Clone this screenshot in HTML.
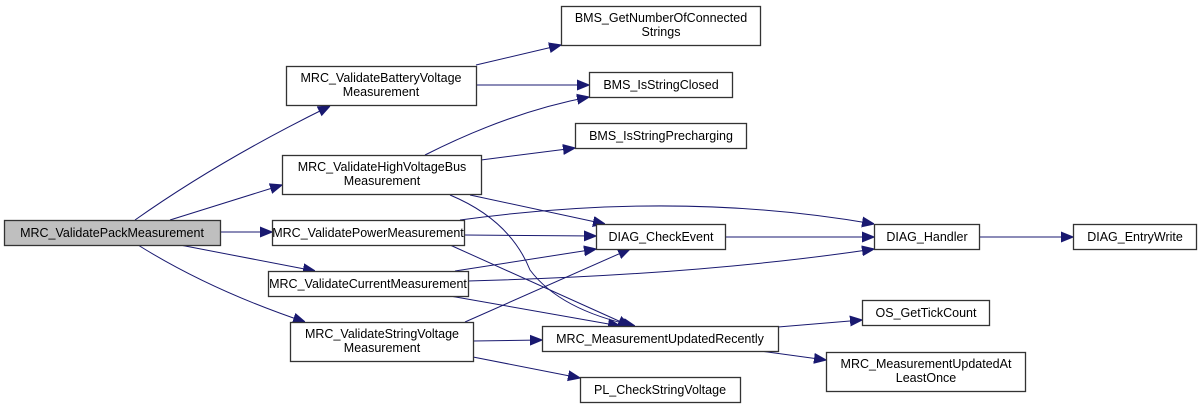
<!DOCTYPE html>
<html><head><meta charset="utf-8"><style>
html,body{margin:0;padding:0;background:#fff;}
svg{display:block;}
text{font-family:"Liberation Sans",Arial,sans-serif;font-size:12.5px;fill:#000;text-anchor:middle;}
rect{fill:#fff;stroke:#333;stroke-width:1.3;}
path{fill:none;stroke:#191970;stroke-width:1;}
</style></head><body>
<svg width="1201" height="407" viewBox="0 0 1201 407" xmlns="http://www.w3.org/2000/svg">
<defs>
<marker id="a" viewBox="0 0 10 10" refX="10" refY="5" markerWidth="12" markerHeight="12" markerUnits="userSpaceOnUse" orient="auto">
<path d="M0,1 L10,5 L0,9 Z" style="fill:#191970;stroke:#191970"/>
</marker>
</defs>
<g marker-end="url(#a)">
<path d="M135,220 Q220,160 330,106"/>
<path d="M170,220 L282,185"/>
<path d="M220,232 L272,232"/>
<path d="M180,245 L315,271"/>
<path d="M138,245 Q210,290 305,322"/>
<path d="M476,65 L561,45"/>
<path d="M476,85 L589,85"/>
<path d="M425,155 Q510,112 589,97"/>
<path d="M481,160 L575,148"/>
<path d="M470,195 L605,224"/>
<path d="M450,195 Q510,220 530,270 Q560,310 635,326"/>
<path d="M460,220 Q680,190 874,224"/>
<path d="M464,235 L596,236"/>
<path d="M450,245 L630,326"/>
<path d="M455,271 L596,249"/>
<path d="M468,281 Q700,275 874,249"/>
<path d="M450,296 L620,326"/>
<path d="M465,322 L630,249"/>
<path d="M473,341 L542,340"/>
<path d="M473,357 L580,378"/>
<path d="M725,237 L874,237"/>
<path d="M979,237 L1073,237"/>
<path d="M778,327 L862,320"/>
<path d="M760,351 L826,360"/>
</g>
<rect x="4.5" y="220.5" width="216" height="25" style="fill:#bfbfbf"/>
<text x="112" y="237">MRC_ValidatePackMeasurement</text>
<rect x="286.5" y="66.5" width="190" height="39"/>
<text x="381" y="82">MRC_ValidateBatteryVoltage</text><text x="381" y="96">Measurement</text>
<rect x="282.5" y="155.5" width="199" height="39"/>
<text x="382" y="171">MRC_ValidateHighVoltageBus</text><text x="382" y="185">Measurement</text>
<rect x="272.5" y="220.5" width="192" height="25"/>
<text x="368" y="237">MRC_ValidatePowerMeasurement</text>
<rect x="268.5" y="271.5" width="200" height="25"/>
<text x="368" y="288">MRC_ValidateCurrentMeasurement</text>
<rect x="290.5" y="322.5" width="183" height="39"/>
<text x="382" y="338">MRC_ValidateStringVoltage</text><text x="382" y="352">Measurement</text>
<rect x="561.5" y="6.5" width="199" height="39"/>
<text x="661" y="22">BMS_GetNumberOfConnected</text><text x="661" y="36">Strings</text>
<rect x="589.5" y="72.5" width="143" height="25"/>
<text x="661" y="89">BMS_IsStringClosed</text>
<rect x="575.5" y="123.5" width="171" height="25"/>
<text x="661" y="140">BMS_IsStringPrecharging</text>
<rect x="596.5" y="224.5" width="129" height="25"/>
<text x="661" y="241">DIAG_CheckEvent</text>
<rect x="874.5" y="224.5" width="105" height="25"/>
<text x="927" y="241">DIAG_Handler</text>
<rect x="1073.5" y="224.5" width="123" height="25"/>
<text x="1135" y="241">DIAG_EntryWrite</text>
<rect x="542.5" y="326.5" width="236" height="25"/>
<text x="660" y="343">MRC_MeasurementUpdatedRecently</text>
<rect x="862.5" y="300.5" width="127" height="25"/>
<text x="926" y="317">OS_GetTickCount</text>
<rect x="826.5" y="352.5" width="199" height="39"/>
<text x="926" y="368">MRC_MeasurementUpdatedAt</text><text x="926" y="382">LeastOnce</text>
<rect x="580.5" y="377.5" width="160" height="25"/>
<text x="660" y="394">PL_CheckStringVoltage</text>
</svg>
</body></html>
